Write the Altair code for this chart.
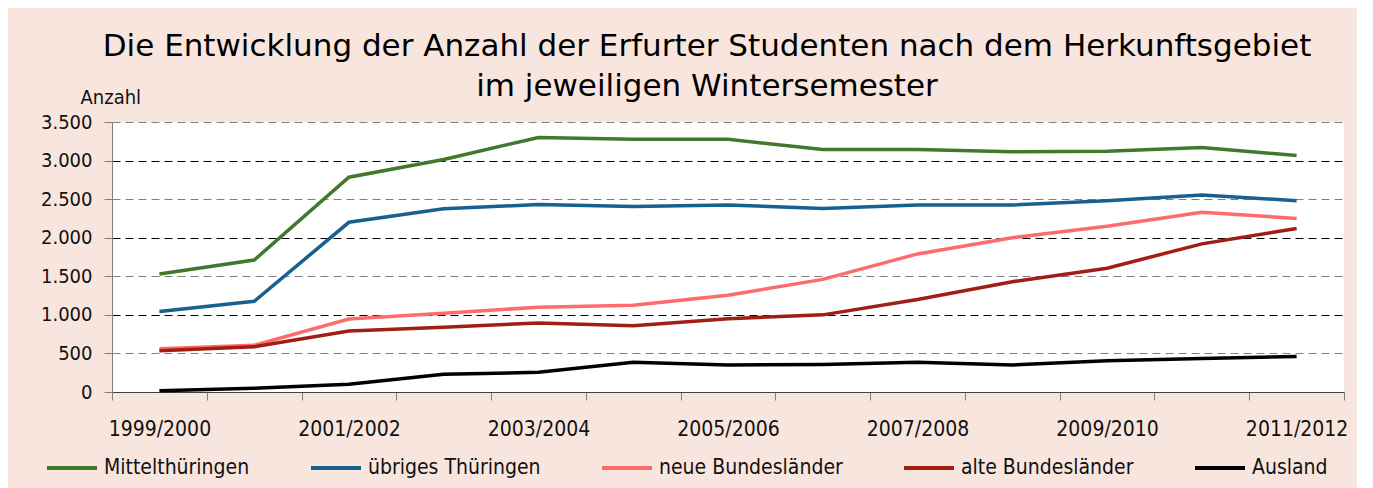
import altair as alt
import pandas as pd

semesters = ["1999/2000", "2000/2001", "2001/2002", "2002/2003", "2003/2004", "2004/2005",
             "2005/2006", "2006/2007", "2007/2008", "2008/2009", "2009/2010", "2010/2011", "2011/2012"]
series_names = ["Mittelthüringen", "übriges Thüringen", "neue Bundesländer", "alte Bundesländer", "Ausland"]
mittel = [1530, 1710, 2785, 3015, 3300, 3275, 3275, 3145, 3145, 3115, 3120, 3170, 3065]
uebrig = [1045, 1175, 2200, 2375, 2430, 2405, 2425, 2380, 2425, 2425, 2480, 2555, 2480]
neue = [560, 605, 945, 1020, 1100, 1125, 1255, 1460, 1790, 2000, 2150, 2330, 2250]
alte = [535, 585, 790, 840, 895, 860, 950, 1000, 1200, 1430, 1605, 1920, 2120]
ausland = [17, 50, 100, 230, 255, 385, 350, 355, 385, 350, 405, 435, 460]
colors = ["#41782C", "#17618F", "#FF6B6B", "#A01E14", "#000000"]

rows = []
for name, vals in zip(series_names, [mittel, uebrig, neue, alte, ausland]):
    for s, v in zip(semesters, vals):
        rows.append({"Semester": s, "Gebiet": name, "Anzahl": v})
df = pd.DataFrame(rows)

FONT = "DejaVu Sans Condensed, sans-serif"

chart = alt.Chart(df).mark_line(strokeWidth=3.5).encode(
    x=alt.X("Semester:N", sort=semesters, bandPosition=0.5,
            scale=alt.Scale(type="band", paddingInner=0, paddingOuter=0),
            axis=alt.Axis(title=None, labelAngle=0, tickBand="extent", tickSize=8,
                          tickColor="#808080", domainColor="#404040", labelPadding=18,
                          labelFontSize=21, labelFont=FONT, labelColor="#111111",
                          labelExpr="toNumber(substring(datum.value,0,4)) % 2 === 1 ? datum.label : ''")),
    y=alt.Y("Anzahl:Q", scale=alt.Scale(domain=[0, 3500], nice=False),
            axis=alt.Axis(values=[0, 500, 1000, 1500, 2000, 2500, 3000, 3500],
                          format=",d", labelExpr="replace(datum.label, ',', '.')",
                          title="Anzahl", titleAngle=0, titleAlign="left",
                          titleBaseline="middle", titleX=-32, titleY=-25,
                          titleFont=FONT, titleFontSize=20, titleFontWeight="normal",
                          titleColor="#111111",
                          labelFont=FONT, labelFontSize=20, labelColor="#111111",
                          tickSize=8, tickColor="#808080", domainColor="#808080",
                          labelPadding=12,
                          grid=True, gridDash=[8, 5], gridWidth=1,
                          gridColor={"condition": {"test": "datum.value % 1000 === 0 && datum.value > 0", "value": "#000000"},
                                     "value": "#808080"})),
    color=alt.Color("Gebiet:N", sort=series_names,
                    scale=alt.Scale(domain=series_names, range=colors),
                    legend=alt.Legend(title=None, orient="none", direction="horizontal",
                                      legendX=-67, legendY=319, columns=5, columnPadding=53,
                                      symbolType="stroke", symbolSize=2500, symbolStrokeWidth=4,
                                      labelFont=FONT, labelFontSize=21, labelColor="#111111",
                                      labelOffset=5, labelLimit=400)),
).properties(
    width=1232, height=270,
    title=alt.TitleParams(
        text=["Die Entwicklung der Anzahl der Erfurter Studenten nach dem Herkunftsgebiet",
              "im jeweiligen Wintersemester"],
        font="DejaVu Sans", fontSize=31, fontWeight="normal", color="#000000",
        anchor="middle", lineHeight=40, dx=-21, dy=38, offset=22),
    autosize=alt.AutoSizeParams(type="none"),
    padding={"left": 104, "top": 114, "right": 13, "bottom": 96},
    background="#F8E6DE",
).configure_view(fill="white", strokeWidth=0)

chart.save("out.html", embed_options={"renderer": "svg", "actions": False})
